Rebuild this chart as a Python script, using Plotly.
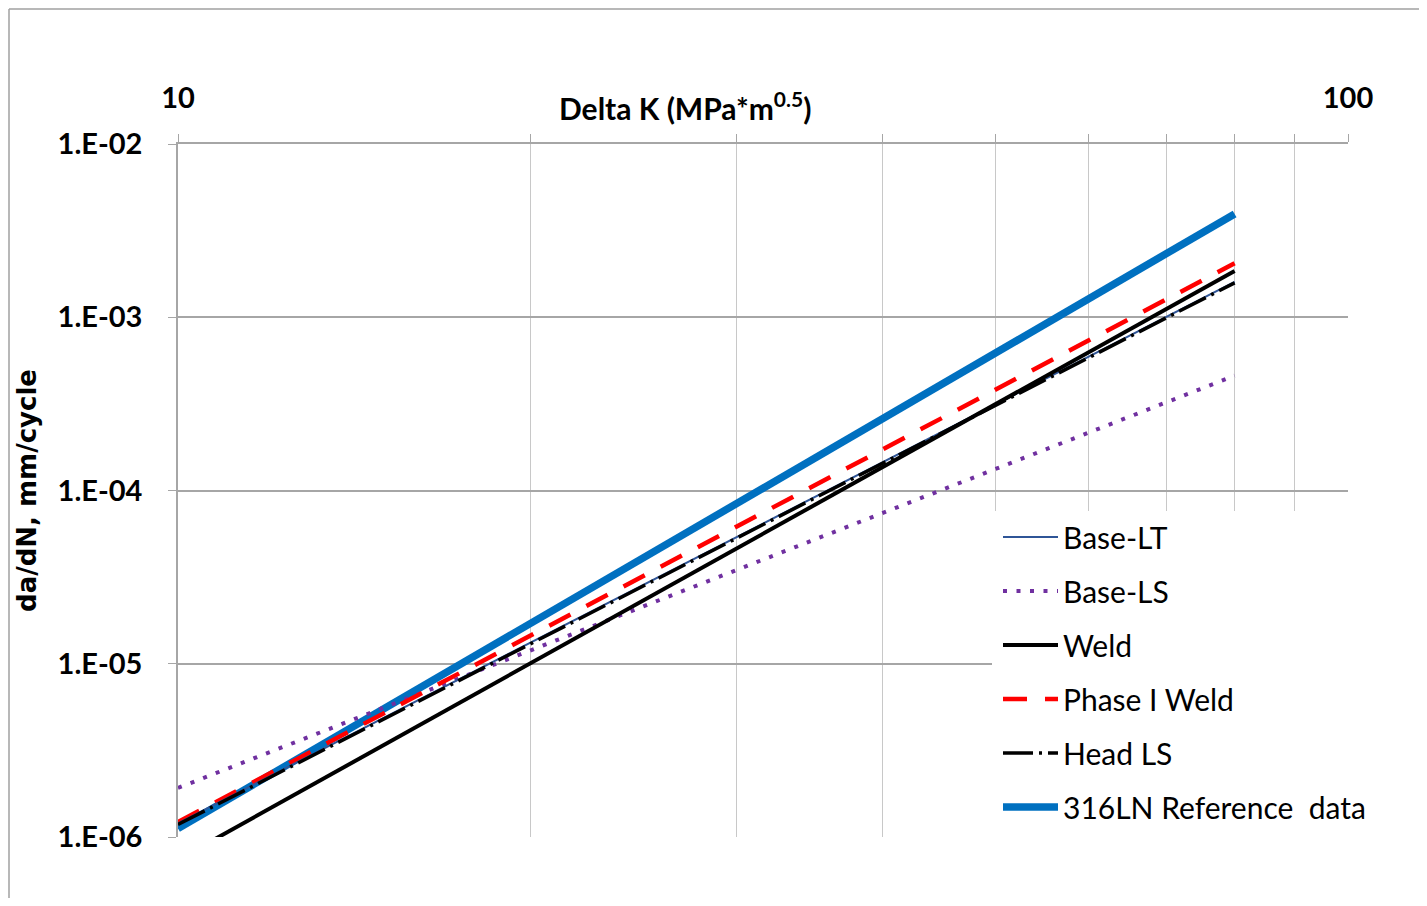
import plotly.graph_objects as go

# Data (power-law lines, endpoints at Delta K = 10 and 80)
delta_k = [10, 80]
series_names = ["Base-LT", "Base-LS", "Weld", "Phase I Weld", "Head LS", "316LN Reference  data"]
base_lt = [1.2e-6, 1.6e-3]
base_ls = [1.92e-6, 4.6e-4]
weld = [7.4e-7, 1.85e-3]
phase1_weld = [1.22e-6, 2.05e-3]
head_ls = [1.18e-6, 1.58e-3]
ref_316ln = [1.12e-6, 3.95e-3]

y_tickvals = [1e-6, 1e-5, 1e-4, 1e-3, 1e-2]
y_ticktext = ["1.E-06", "1.E-05", "1.E-04", "1.E-03", "1.E-02"]
x_gridvals = [10, 20, 30, 40, 50, 60, 70, 80, 90, 100]
x_ticktext = ["10", "", "", "", "", "", "", "", "", "100"]

FONT = "Lato"

styles = [
    dict(color="#2f5597", width=2, dash="solid"),
    dict(color="#7030a0", width=4, dash="4px,9.5px"),
    dict(color="#000000", width=4, dash="solid"),
    dict(color="#ff0000", width=4.5, dash="24px,18px"),
    dict(color="#000000", width=3.5, dash="30px,6px,3px,6px"),
    dict(color="#0070c0", width=7.5, dash="solid"),
]
values = [base_lt, base_ls, weld, phase1_weld, head_ls, ref_316ln]

fig = go.Figure()
draw_order = [5, 1, 3, 0, 4, 2]
for i in draw_order:
    fig.add_trace(go.Scatter(
        x=delta_k, y=values[i], mode="lines", name=series_names[i],
        line=styles[i], legendgroup=series_names[i], legendrank=i + 1,
    ))

OFF = 7  # page offset of the figure inside the browser page
W, H = 1427 - 2 * OFF - 2, 906 - 2 * OFF - 2
L, R, T, B = 177 - OFF, 1347 - OFF, 143 - OFF, 836 - OFF

def px_x(p):
    return (p - OFF - L) / (R - L)

def px_y(p):
    return (B - (p - OFF)) / (B - T)

fig.update_layout(
    width=W, height=H,
    margin=dict(l=L, r=W - R, t=T, b=H - B),
    paper_bgcolor="white", plot_bgcolor="white",
    font=dict(family=FONT, color="black"),
    showlegend=True,
    legend=dict(
        x=px_x(997), y=px_y(510), xanchor="left", yanchor="top",
        bgcolor="rgba(0,0,0,0)", font=dict(family=FONT, size=30, color="black"),
        tracegroupgap=12, traceorder="grouped", itemwidth=55,
    ),
    xaxis=dict(
        type="log", range=[1, 2], side="top",
        tickvals=x_gridvals, ticktext=x_ticktext,
        tickfont=dict(family=FONT, size=29, color="black", weight="bold"),
        ticks="outside", ticklen=8, tickcolor="#a6a6a6",
        showgrid=True, gridcolor="#c8c8c8", gridwidth=1,
        showline=True, linecolor="#a6a6a6", linewidth=1.5,
        ticklabelstandoff=15, zeroline=False,
    ),
    yaxis=dict(
        type="log", range=[-6, -2],
        tickvals=y_tickvals, ticktext=y_ticktext,
        tickfont=dict(family=FONT, size=29, color="black", weight="bold"),
        ticks="outside", ticklen=8, tickcolor="#a6a6a6",
        showgrid=True, gridcolor="#a6a6a6", gridwidth=1.5,
        showline=True, linecolor="#a6a6a6", linewidth=1.5,
        ticklabelstandoff=20, zeroline=False,
        title=dict(text="da/dN, mm/cycle", font=dict(family="DejaVu Sans", size=26, color="black", weight="bold"), standoff=14),
    ),
    shapes=[
        # white area behind the legend, covering gridlines
        dict(type="rect", xref="paper", yref="paper", x0=px_x(991), x1=px_x(1349), y0=px_y(838), y1=px_y(510),
             fillcolor="white", line=dict(width=0), layer="above"),
        # outer chart border (top and left)
        dict(type="line", xref="paper", yref="paper", x0=px_x(OFF + 1), x1=px_x(1440), y0=px_y(OFF + 1), y1=px_y(OFF + 1),
             line=dict(color="#a0a0a0", width=1.5), layer="above"),
        dict(type="line", xref="paper", yref="paper", x0=px_x(OFF + 1), x1=px_x(OFF + 1), y0=px_y(OFF + 1), y1=px_y(920),
             line=dict(color="#a0a0a0", width=1.5), layer="above"),
    ],
    annotations=[
        dict(text="Delta K (MPa*m<sup>0.5</sup>)", xref="paper", yref="paper",
             x=px_x(684), y=px_y(105), xanchor="center", yanchor="middle", showarrow=False,
             font=dict(family=FONT, size=30, color="black", weight="bold")),
    ],
)

fig.write_html("out.html")
